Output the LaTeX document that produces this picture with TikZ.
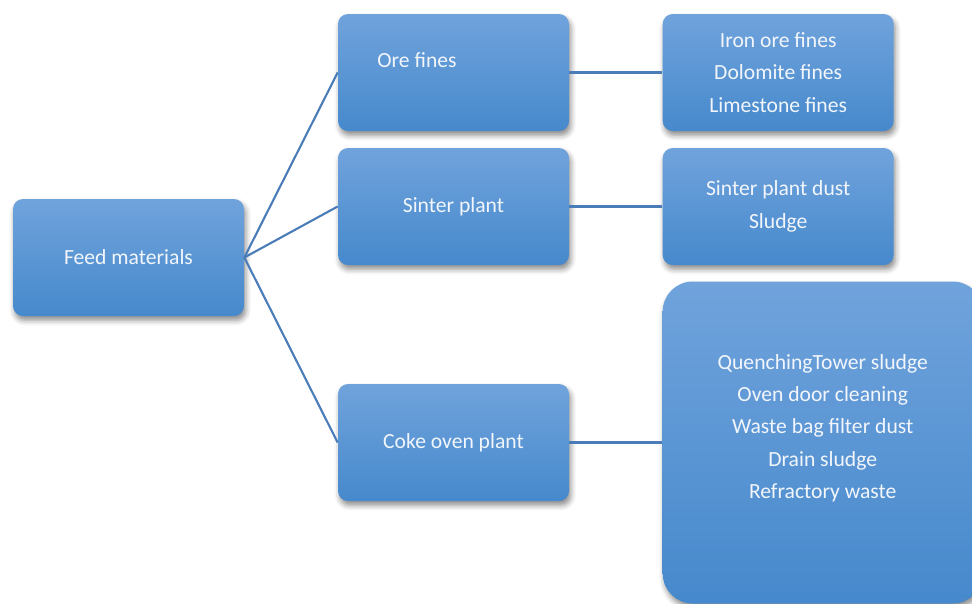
\documentclass[tikz,border=0pt]{standalone}
\usepackage{fontspec}
\setmainfont{Carlito}
\usepackage{tikz}
\usetikzlibrary{positioning,shadows.blur}
\definecolor{boxtop}{RGB}{112,163,220}
\definecolor{boxmid}{RGB}{84,152,219}
\definecolor{boxbot}{RGB}{70,137,204}
\definecolor{boxtext}{RGB}{242,246,251}
\definecolor{linkcol}{RGB}{74,124,184}

\begin{document}
\begin{tikzpicture}[
  node distance=1.86cm,
  block/.style={rectangle, rounded corners=0.2cm, minimum height=2.34cm,
    minimum width=4.62cm, align=center, text=boxtext,
    top color=boxtop, middle color=boxmid, bottom color=boxbot,
    font=\fontsize{12.3}{18.4}\selectfont,
    blur shadow={shadow xshift=1pt, shadow yshift=-2.5pt, shadow blur radius=3pt, shadow opacity=45}},
  link/.style={draw=linkcol, line width=1.2pt}
]
  \useasboundingbox (0,0) rectangle (19.44,-12.06);
  \node[block] (feed) at (2.57,-5.15) {Feed materials};
  \node[block, text height=6pt, text depth=12pt] (ore) at (9.07,-1.45)
    {Ore fines\hspace*{1.46cm}};
  \node[block] (sinter) at (9.07,-4.13) {Sinter plant};
  \node[block] (coke) at (9.07,-8.85) {Coke oven plant};
  %
  \node[block, right=of ore] (oreout) {Iron ore fines\\Dolomite fines\\Limestone fines};
  \node[block, right=of sinter] (sinterout) {Sinter plant dust\\Sludge};
  \node[block, right=of coke, minimum width=6.4cm, minimum height=6.44cm,
    rounded corners=0.6cm] (cokeout)
    {QuenchingTower sludge\\Oven door cleaning\\Waste bag filter dust\\Drain sludge\\Refractory waste\\\mbox{}};
  %
  \draw[link] (feed.east) -- (ore.west);
  \draw[link] (feed.east) -- (sinter.west);
  \draw[link] (feed.east) -- (coke.west);
  \draw[link] (ore) -- (oreout);
  \draw[link] (sinter) -- (sinterout);
  \draw[link] (coke) -- (cokeout);
\end{tikzpicture}
\end{document}
